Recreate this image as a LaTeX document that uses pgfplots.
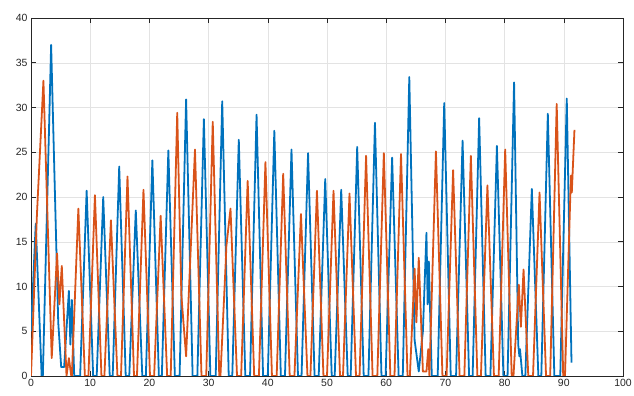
\documentclass[border=0pt]{standalone}
\usepackage{fontspec}
\setmainfont{Liberation Sans}
\usepackage{pgfplots}
\pgfplotsset{compat=1.18}
\definecolor{mblue}{rgb}{0,0.447,0.741}
\definecolor{morange}{rgb}{0.85,0.325,0.098}
\definecolor{axgray}{rgb}{0.15,0.15,0.15}
\definecolor{gridgray}{rgb}{0.89,0.89,0.89}
\begin{document}
\begin{tikzpicture}
\begin{axis}[
  scale only axis,
  width=592bp, height=358bp,
  xmin=0, xmax=100, ymin=0, ymax=40,
  xtick={0,10,...,100}, ytick={0,5,...,40},
  grid=major,
  major grid style={draw=gridgray, line width=0.5pt},
  axis line style={draw=axgray, line width=0.6pt},
  tick style={draw=axgray, line width=0.6pt},
  major tick length=5bp,
  tick align=inside,
  xtick pos=both, ytick pos=both,
  ticklabel style={font=\fontsize{10.5}{12}\selectfont, text=axgray},
  /pgf/number format/assume math mode=true,
  every axis plot/.append style={line width=1.8pt, line join=round, no markers},
]
\addplot[mblue] coordinates {
(0,5)(0.8,17)(1.8,0)(2.0,0)(3.4,37)(4.6,6)(5.1,1)(5.6,1)(6.4,9.5)(6.65,3.5)(6.9,8.5)(7.3,0)(8.3,0)(9.4,20.7)(10.5,0)
(11.1,0)(12.2,20.0)(13.3,0)
(13.8,0)(14.9,23.4)(16.0,0)
(16.6,0)(17.7,18.5)(18.8,0)
(19.4,0)(20.5,24.1)(21.6,0)
(22.1,0)(23.2,25.2)(24.3,0)
(25.1,0)(26.2,30.9)(27.3,0)
(28.1,0)(29.2,28.7)(30.3,0)
(31.2,0)(32.3,30.7)(33.4,0)
(34.0,0)(35.1,26.4)(36.2,0)
(37.0,0)(38.1,29.2)(39.2,0)
(40.0,0)(41.1,27.4)(42.2,0)
(42.9,0)(44.0,25.3)(45.1,0)
(45.7,0)(46.8,24.9)(47.9,0)
(48.6,0)(49.7,22.0)(50.8,0)
(51.3,0)(52.4,20.8)(53.5,0)
(54.0,0)(55.1,25.6)(56.2,0)
(57.0,0)(58.1,28.3)(59.2,0)
(59.9,0)(61.0,24.4)(62.1,0)
(62.8,0)(63.9,33.4)(64.8,4)(65.5,0.5)(66.2,5)(66.8,16)(67.0,8)(67.2,12.8)(67.7,0)
(68.7,0)(69.8,30.5)(70.9,0)
(71.8,0)(72.9,26.3)(74.0,0)
(74.6,0)(75.7,28.8)(76.8,0)
(77.6,0)(78.7,25.7)(79.8,0)
(80.5,0)(81.6,32.8)(82.3,3.5)(82.5,2.2)(82.6,3)(83.0,0)
(83.5,0)(84.6,20.9)(85.7,0)
(86.2,0)(87.3,29.3)(88.4,0)
(89.4,0)(90.5,31.0)(91.3,1.5)
};
\addplot[morange] coordinates {
(0,0)(1.0,18)(2.1,33)(3.5,2)(4.4,13.7)(4.8,8)(5.2,12.3)(6.0,0)(6.4,2)(6.8,0)
(6.9,0)(8.0,18.7)(9.1,0)
(9.7,0)(10.8,20.2)(11.9,0)
(12.4,0)(13.5,17.4)(14.6,0)
(15.2,0)(16.3,22.3)(17.4,0)
(17.9,0)(19.0,20.8)(20.1,0)
(20.8,0)(21.9,17.9)(23.0,0)
(23.6,0)(24.7,29.4)(25.4,9)(26.2,2.2)(27.7,25.3)(28.8,0)
(29.6,0)(30.7,28.4)(31.8,0)(32.0,0)(32.9,12.8)(33.0,14.5)(33.7,18.7)(34.8,0)
(35.5,0)(36.6,21.8)(37.7,0)
(38.5,0)(39.6,23.9)(40.7,0)
(41.5,0)(42.6,22.6)(43.7,0)
(44.5,0)(45.6,18.1)(46.7,0)
(47.2,0)(48.3,20.7)(49.4,0)
(50.0,0)(51.1,20.7)(52.2,0)
(52.7,0)(53.8,20.4)(54.9,0)
(55.5,0)(56.6,24.6)(57.7,0)
(58.5,0)(59.6,24.9)(60.7,0)
(61.4,0)(62.5,24.8)(63.6,0)(64.0,0)(64.8,12.0)(65.1,6)(65.5,13.2)(66.2,0.5)(66.8,0.5)(67.1,3)(67.3,0)
(68.4,25.1)(69.5,0)
(70.2,0)(71.3,23.0)(72.4,0)
(73.2,0)(74.3,24.6)(75.4,0)
(76.0,0)(77.1,21.3)(78.2,0)
(79.0,0)(80.1,25.3)(81.2,0)(81.5,0)(82.4,10.2)(82.75,5.5)(83.2,11.9)(84.0,0)
(84.8,0)(85.9,20.5)(87.0,0)
(87.7,0)(88.8,30.4)(89.9,0)(90.2,0)(91.2,22.4)(91.35,20.5)(91.8,27.5)
};
\end{axis}
\pgfresetboundingbox
\path (-31bp,-20bp) rectangle (603bp,376bp);
\end{tikzpicture}
\end{document}
